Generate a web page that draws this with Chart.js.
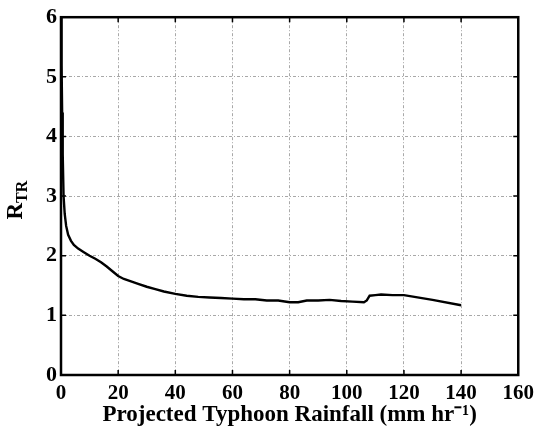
<!DOCTYPE html>
<html>
<head>
<meta charset="utf-8">
<script src="https://cdn.jsdelivr.net/npm/chart.js@4/dist/chart.umd.min.js"></script>
<style>
  html, body { margin: 0; padding: 0; background: #fff; }
  #wrap { width: 540px; height: 429px; }
</style>
</head>
<body>
<div id="wrap"><canvas id="rtrChart" width="540" height="429"></canvas></div>
<script>
// Values
var rainfall = [0.05, 0.2, 0.4, 0.6, 0.9, 1.3, 1.8, 2.5, 3.5, 4.5, 6, 8, 10, 12, 14, 16, 18, 20, 22, 24,
    27, 30, 33, 36, 40, 44, 48, 52, 56, 60, 64, 68, 72, 76, 80, 83, 86, 90, 94, 98,
    102, 106, 107, 108, 110, 112, 116, 120, 130, 140];
var rtr = [6.0, 5.2, 4.4, 3.7, 3.0, 2.7, 2.5, 2.35, 2.25, 2.18, 2.12, 2.06, 2.0, 1.95, 1.89, 1.82, 1.74, 1.66, 1.61, 1.58,
    1.53, 1.48, 1.44, 1.40, 1.36, 1.33, 1.31, 1.30, 1.29, 1.28, 1.27, 1.27, 1.25, 1.25, 1.22, 1.22, 1.25, 1.25, 1.26, 1.24,
    1.23, 1.22, 1.25, 1.33, 1.34, 1.35, 1.34, 1.34, 1.26, 1.17];
var xTicks = [0, 20, 40, 60, 80, 100, 120, 140, 160];
var yTicks = [0, 1, 2, 3, 4, 5, 6];

var points = rainfall.map(function (x, i) { return { x: x, y: rtr[i] }; });

var serif = "'Liberation Serif', 'Times New Roman', serif";

// Box around the plot, inward tick marks on all four sides, and the R_TR label
var matlabFrame = {
    id: "matlabFrame",
    afterDraw: function (chart) {
        var c = chart.ctx, a = chart.chartArea;
        var xs = chart.scales.x, ys = chart.scales.y;
        c.save();
        c.strokeStyle = "#000";
        c.lineWidth = 1.5;
        xTicks.forEach(function (v) {
            var px = xs.getPixelForValue(v);
            c.beginPath();
            c.moveTo(px, a.bottom); c.lineTo(px, a.bottom - 5);
            c.moveTo(px, a.top); c.lineTo(px, a.top + 5);
            c.stroke();
        });
        yTicks.forEach(function (v) {
            var py = ys.getPixelForValue(v);
            c.beginPath();
            c.moveTo(a.left, py); c.lineTo(a.left + 5, py);
            c.moveTo(a.right, py); c.lineTo(a.right - 5, py);
            c.stroke();
        });
        c.lineWidth = 2.5;
        c.strokeRect(a.left, a.top, a.right - a.left, a.bottom - a.top);

        // rotated y title with subscript
        c.translate(22, (a.top + a.bottom) / 2 + 4);
        c.rotate(-Math.PI / 2);
        c.fillStyle = "#000";
        c.textBaseline = "alphabetic";
        c.textAlign = "left";
        c.font = "bold 23px " + serif;
        var rw = c.measureText("R").width;
        var sub = "TR";
        c.font = "bold 16px " + serif;
        var sw = c.measureText(sub).width;
        var start = -(rw + sw) / 2;
        c.font = "bold 23px " + serif;
        c.fillText("R", start, 0);
        c.font = "bold 16px " + serif;
        c.fillText(sub, start + rw, 5);
        c.restore();
    }
};

var ctx = document.getElementById("rtrChart").getContext("2d");

var rtrChart = new Chart(ctx, {
    type: "scatter",
    data: {
        datasets: [{
            data: points,
            showLine: true,
            borderColor: "#000",
            borderWidth: 2.4,
            pointRadius: 0,
            tension: 0
        }]
    },
    options: {
        responsive: false,
        animation: false,
        layout: {
            padding: { left: 0, right: 21, top: 14, bottom: 0 }
        },
        scales: {
            x: {
                type: "linear",
                min: 0,
                max: 160,
                afterBuildTicks: function (s) { s.ticks = xTicks.map(function (v) { return { value: v }; }); },
                afterFit: function (s) { s.height = 54; },
                grid: {
                    color: "#a8a8a8",
                    lineWidth: 1,
                    drawTicks: false
                },
                border: { display: false, dash: [3, 2, 1, 2] },
                ticks: {
                    color: "#000",
                    padding: 6,
                    maxRotation: 0,
                    font: { family: serif, size: 21, weight: "bold" }
                },
                title: {
                    display: true,
                    text: "Projected Typhoon Rainfall (mm hr\u207B\u00B9)",
                    color: "#000",
                    padding: { top: 0, bottom: 0 },
                    font: { family: serif, size: 23, weight: "bold" }
                }
            },
            y: {
                min: 0,
                max: 6,
                afterBuildTicks: function (s) { s.ticks = yTicks.map(function (v) { return { value: v }; }); },
                afterFit: function (s) { s.width = 61; },
                grid: {
                    color: "#a8a8a8",
                    lineWidth: 1,
                    drawTicks: false
                },
                border: { display: false, dash: [3, 2, 1, 2] },
                ticks: {
                    color: "#000",
                    padding: 4,
                    font: { family: serif, size: 22, weight: "bold" }
                }
            }
        },
        plugins: {
            legend: { display: false },
            tooltip: { enabled: false }
        }
    },
    plugins: [matlabFrame]
});
</script>
</body>
</html>
